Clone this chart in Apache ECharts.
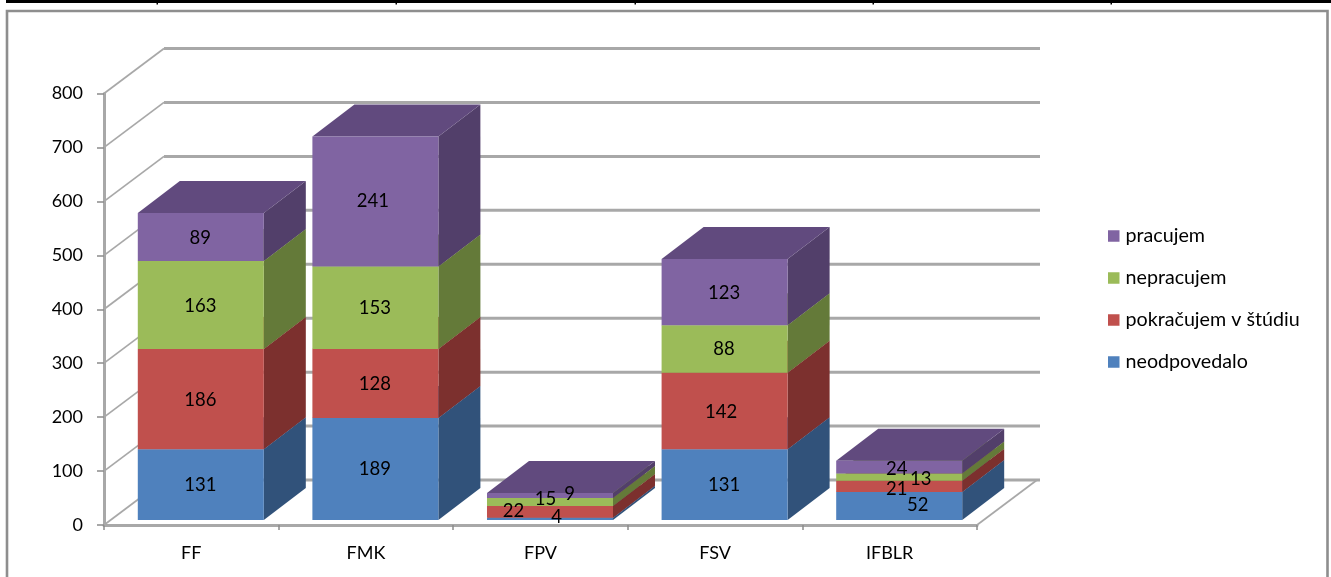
<!DOCTYPE html>
<html><head><meta charset="utf-8">
<style>html,body{margin:0;padding:0;background:#fff}#c{width:1331px;height:577px}</style>
<script src="https://cdn.jsdelivr.net/npm/echarts@6/dist/echarts.min.js"></script>
</head><body><div id="c"></div>
<script>
const categories = ['FF','FMK','FPV','FSV','IFBLR'];
const neodpovedalo = [131,189,4,131,52];
const pokracujem = [186,128,22,142,21];
const nepracujem = [163,153,15,88,13];
const pracujem = [89,241,9,123,24];
const axisTicks = [0,100,200,300,400,500,600,700,800];
const seriesNames = ['neodpovedalo','pokračujem v štúdiu','nepracujem','pracujem'];
const seriesValues = [neodpovedalo,pokracujem,nepracujem,pracujem];
const FONT = 'Lato';
const front = ['#4F81BD','#C0504D','#9BBB59','#8064A2'];
const side  = ['#31527A','#7C302E','#647A39','#523F6A'];
const topc  = ['#3E659A','#9A3F3D','#7D9647','#614A7E'];
// projection of the 3D box
const WALL = [60,-45], WALL_EXT = 3, BAR_SHIFT = [9.5,-5], BAR_DEPTH = [42,-32], BAR_FRAC = 0.7217;
// hand-moved label nudges in the original, [series][category] => [dx,dy]
const nudge = [
 [[0,0],[0,0],[7,-2],[0,0],[19,-1]],
 [[0,0],[0,0],[-36,-1],[-3,0],[-2,2]],
 [[0,0],[0,0],[-4,-3],[0,0],[22,1]],
 [[0,0],[-2,-1],[20,-2],[0,0],[-2,1]]
];
const WALL_COLOR = '#A8A8A8';

function poly(points, fill){
  return {type:'polygon',shape:{points},style:{fill,stroke:null}};
}
const boxSeries = seriesNames.map((name,s)=>{
  let data = categories.map((c,i)=>{
    let base = 0;
    for(let k=0;k<s;k++) base += seriesValues[k][i];
    return [i, base, base+seriesValues[s][i]];
  });
  return {
    type:'custom', name, coordinateSystem:'cartesian2d', itemStyle:{color:front[s]},
    encode:{x:0,y:[1,2]}, data, z:3, clip:false,
    renderItem(params,api){
      const i=api.value(0);
      const p0=api.coord([i,api.value(1)]), p1=api.coord([i,api.value(2)]);
      const w=api.size([1,0])[0]*BAR_FRAC;
      const xl=p0[0]-w/2+BAR_SHIFT[0], xr=xl+w;
      const yb=p0[1]+BAR_SHIFT[1], yt=p1[1]+BAR_SHIFT[1];
      const dx=BAR_DEPTH[0], dy=BAR_DEPTH[1];
      const n=nudge[s][i];
      return {type:'group',children:[
        poly([[xr,yb],[xr+dx,yb+dy],[xr+dx,yt+dy],[xr,yt]],side[s]),
        poly([[xl,yt],[xr,yt],[xr+dx,yt+dy],[xl+dx,yt+dy]],topc[s]),
        {type:'rect',shape:{x:xl,y:yt,width:w,height:yb-yt},style:{fill:front[s]}},
        {type:'text',z2:100,style:{text:String(seriesValues[s][i]),x:(xl+xr)/2+n[0]-0.5,y:(yb+yt)/2+n[1]+0.5,
          align:'center',verticalAlign:'middle',fill:'#000',font:'18.5px '+FONT}}
      ]};
    }
  };
});
const wallSeries = {
  type:'custom', name:'walls', coordinateSystem:'cartesian2d', silent:true, z:1, clip:false,
  data:axisTicks.map(v=>[0,v]), encode:{x:0,y:1},
  renderItem(params,api){
    const v=api.value(1), y=api.coord([0,v])[1];
    const cs=params.coordSys, x0=cs.x, x1=cs.x+cs.width;
    const ls={stroke:WALL_COLOR,lineWidth:1.7}, lb={stroke:WALL_COLOR,lineWidth:3};
    const kids=[
      {type:'line',shape:{x1:x0,y1:y,x2:x0+WALL[0],y2:y+WALL[1]},style:ls},
      {type:'line',shape:{x1:x0+WALL[0],y1:y+WALL[1],x2:x1+WALL[0]+WALL_EXT,y2:y+WALL[1]},style:lb}
    ];
    if(v===0) kids.push({type:'line',shape:{x1:x1,y1:y,x2:x1+WALL[0],y2:y+WALL[1]},style:ls});
    return {type:'group',children:kids};
  }
};
const chart = echarts.init(document.getElementById('c'),null,{renderer:'canvas'});
chart.setOption({
  animation:false, backgroundColor:'#fff',
  grid:{left:104,right:354,top:93.5,bottom:52,containLabel:false},
  xAxis:{type:'category',data:categories,
    axisLine:{lineStyle:{color:WALL_COLOR,width:3}},axisTick:{show:true,alignWithLabel:false,length:5,lineStyle:{color:'#8c8c8c',width:1.5}},
    axisLabel:{color:'#000',fontFamily:FONT,fontSize:18,margin:19},splitLine:{show:false}},
  yAxis:{type:'value',min:0,max:800,interval:100,
    axisLine:{show:true,lineStyle:{color:WALL_COLOR,width:3}},axisTick:{show:true,length:7,lineStyle:{color:'#8c8c8c',width:1.5}},
    axisLabel:{color:'#000',fontFamily:FONT,fontSize:18,margin:21},splitLine:{show:false}},
  legend:{show:true,orient:'vertical',left:1103,top:221,itemWidth:11.5,itemHeight:11.5,itemGap:22,icon:'rect',
    data:seriesNames.slice().reverse(),textStyle:{color:'#000',fontFamily:FONT,fontSize:19.7,padding:[0,0,0,1]}},
  tooltip:{show:false},
  graphic:[
    {type:'rect',silent:true,z:0,shape:{x:7,y:11,width:1320.5,height:600},style:{fill:'#fff',stroke:'#8E8E8E',lineWidth:2.6}},
    {type:'rect',silent:true,z:0,shape:{x:6,y:0,width:1325,height:3},style:{fill:'#000'}},
    ...[157,396,635,873,1111].map(x=>({type:'rect',silent:true,z:0,shape:{x:x-0.5,y:0,width:1.5,height:4.5},style:{fill:'#000'}}))
  ],
  series:[wallSeries,...boxSeries]
});
</script></body></html>
